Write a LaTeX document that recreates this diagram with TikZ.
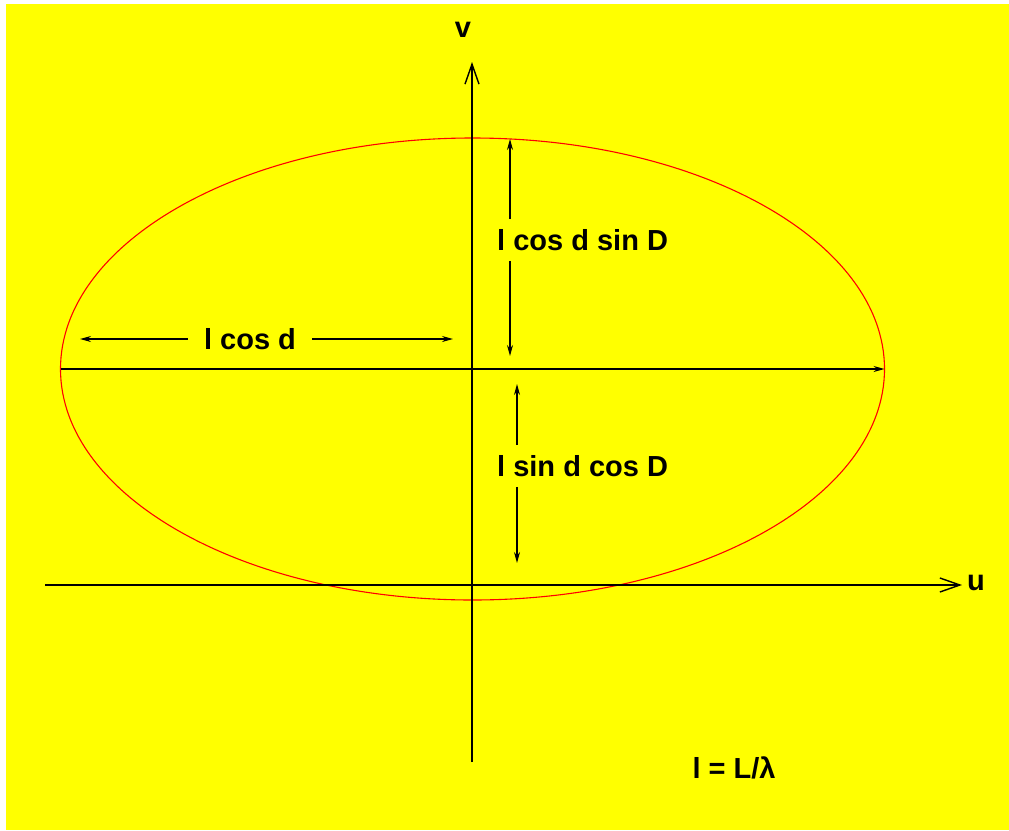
\documentclass[tikz,border=0pt]{standalone}
\usepackage{fontspec}
\setmainfont{Liberation Sans}
\usetikzlibrary{arrows.meta}
\definecolor{bgyellow}{RGB}{255,255,0}
\definecolor{ellred}{RGB}{255,0,0}

\begin{document}
\begin{tikzpicture}[x=1pt,y=-1pt,
	lbl/.style={font=\bfseries\fontsize{29}{32}\selectfont,inner sep=0pt},
	axis/.style={line width=1.4pt,-{Straight Barb[length=20pt,width=14pt,line width=1.4pt]}},
	dim/.style={line width=1.3pt,-{Stealth[length=11pt,width=6pt]}}]
	% Background
	\fill[white] (0,0) rectangle (1009,830);
	\fill[bgyellow] (6,4) rectangle (1009,830);
	\useasboundingbox (0,0) rectangle (1009,830);
	
	% Ellipse
	\coordinate (o) at (472.5,369);
	\draw[ellred,line width=1.1pt] (o) ellipse [x radius=412,y radius=231];
	\coordinate (ew) at (60.5,369);
	\coordinate (ee) at (884.5,369);
	\draw[dim] (ew) -- (ee);
	
	% Axes
	\coordinate (ua) at (45,585);
	\coordinate (ub) at (962,585);
	\coordinate (va) at (472,762);
	\coordinate (vb) at (472,62);
	\draw[axis] (ua) -- (ub);
	\draw[axis] (va) -- (vb);
	\node[lbl] (ulbl) at (976,583) {u};
	\node[lbl] (vlbl) at (463,30) {v};
	
	% Dimensions
	\node[lbl,inner xsep=16pt] (lcos) at (250,339) {l cos d};
	\coordinate (lcl) at (80,339);
	\coordinate (lcr) at (453,339);
	\draw[dim] (lcos.west) -- (lcl);
	\draw[dim] (lcos.east) -- (lcr);
	
	\node[lbl,anchor=west,inner ysep=10pt] (up) at (497,240) {l cos d sin D};
	\coordinate (upt) at (510,139);
	\coordinate (upb) at (510,356);
	\draw[dim] (upt |- up.north) -- (upt);
	\draw[dim] (upb |- up.south) -- (upb);
	
	\node[lbl,anchor=west,inner ysep=10pt] (dn) at (497,466) {l sin d cos D};
	\coordinate (dnt) at (517,384);
	\coordinate (dnb) at (517,563);
	\draw[dim] (dnt |- dn.north) -- (dnt);
	\draw[dim] (dnb |- dn.south) -- (dnb);
	
	% Note
	\node[lbl] (note) at (734,768) {l = L/λ};
\end{tikzpicture}
\end{document}
